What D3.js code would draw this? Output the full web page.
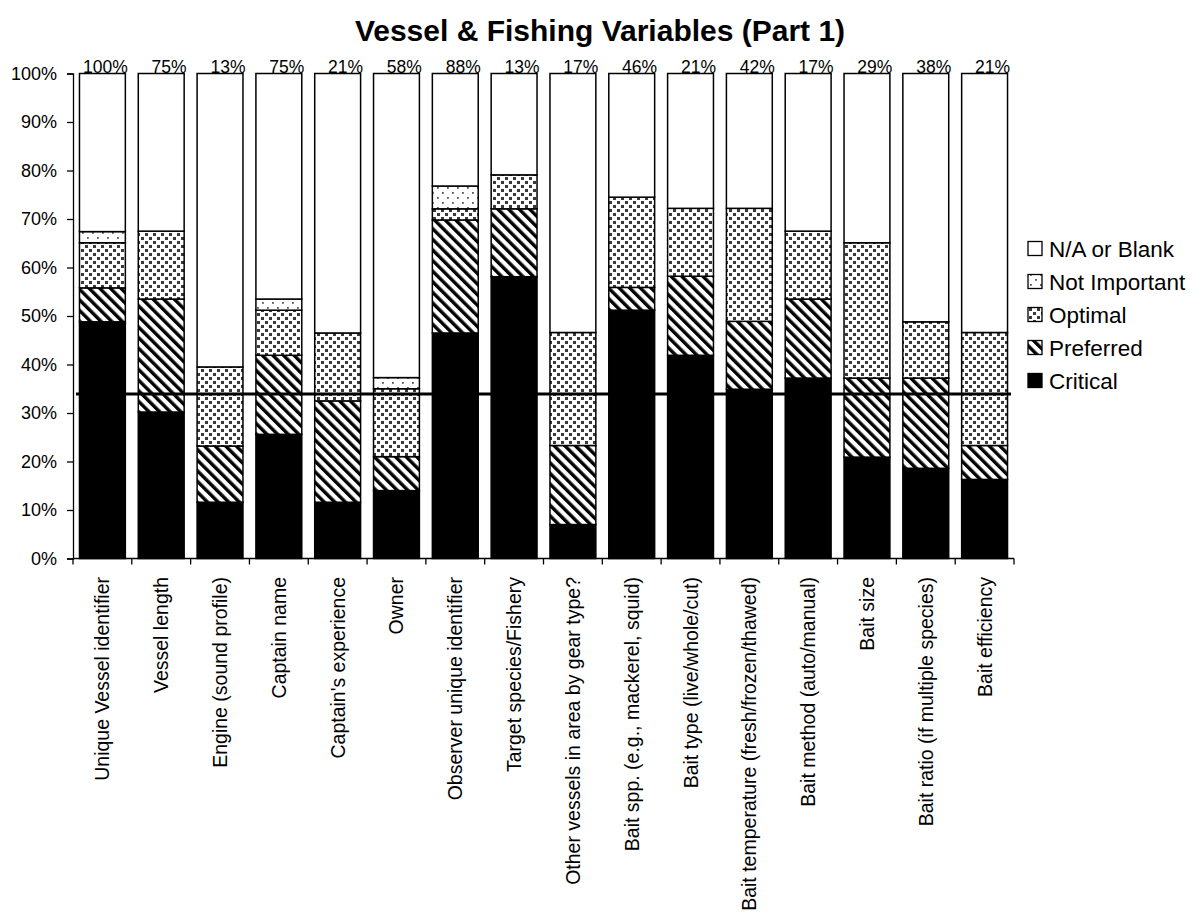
<!DOCTYPE html>
<html>
<head>
<meta charset="utf-8">
<script src="https://cdn.jsdelivr.net/npm/d3@7"></script>
<style>
  body { margin: 0; background: #fff; }
  text { font-family: Arial, "Liberation Sans", sans-serif; fill: #000; }
</style>
</head>
<body>
<svg id="chart" width="1201" height="920"></svg>
<script>
const categories = [
  "Unique Vessel identifier", "Vessel length", "Engine (sound profile)", "Captain name",
  "Captain's experience", "Owner", "Observer unique identifier", "Target species/Fishery",
  "Other vessels in area by gear type?", "Bait spp. (e.g., mackerel, squid)",
  "Bait type (live/whole/cut)", "Bait temperature (fresh/frozen/thawed)",
  "Bait method (auto/manual)", "Bait size", "Bait ratio (if multiple species)", "Bait efficiency"
];
const critical     = [48.8, 30.2, 11.6, 25.6, 11.6, 14.0, 46.5, 58.1, 7.0, 51.2, 41.9, 34.9, 37.2, 20.9, 18.6, 16.3];
const preferred    = [7.0, 23.3, 11.6, 16.3, 20.9, 7.0, 23.3, 14.0, 16.3, 4.7, 16.3, 14.0, 16.3, 16.3, 18.6, 7.0];
const optimal      = [9.3, 14.0, 16.3, 9.3, 14.0, 14.0, 2.3, 7.0, 23.3, 18.6, 14.0, 23.3, 14.0, 27.9, 11.6, 23.3];
const notImportant = [2.3, 0, 0, 2.3, 0, 2.3, 4.7, 0, 0, 0, 0, 0, 0, 0, 0, 0];
const naBlank      = [32.6, 32.6, 60.5, 46.5, 53.5, 62.8, 23.3, 20.9, 53.5, 25.6, 27.9, 27.9, 32.6, 34.9, 51.2, 53.5];
const topLabels    = ["100%", "75%", "13%", "75%", "21%", "58%", "88%", "13%", "17%", "46%", "21%", "42%", "17%", "29%", "38%", "21%"];
const seriesNames  = ["Critical", "Preferred", "Optimal", "Not Important", "N/A or Blank"];
const yTicks       = [0, 10, 20, 30, 40, 50, 60, 70, 80, 90, 100];
const referenceLine = 33.9;
const titleText = "Vessel & Fishing Variables (Part 1)";

const svg = d3.select("#chart");
const defs = svg.append("defs");

// Patterns
const pPref = defs.append("pattern").attr("id", "pat-pref").attr("patternUnits", "userSpaceOnUse")
  .attr("width", 7.5).attr("height", 7.5).attr("patternTransform", "rotate(-45)");
pPref.append("rect").attr("width", 7.5).attr("height", 7.5).attr("fill", "#fff");
pPref.append("rect").attr("width", 3.4).attr("height", 7.5).attr("fill", "#000");

const pOpt = defs.append("pattern").attr("id", "pat-opt").attr("patternUnits", "userSpaceOnUse")
  .attr("width", 8).attr("height", 8);
pOpt.append("rect").attr("width", 8).attr("height", 8).attr("fill", "#fff");
pOpt.append("rect").attr("x", 1).attr("y", 1).attr("width", 3).attr("height", 3).attr("fill", "#3a3a3a");
pOpt.append("rect").attr("x", 5).attr("y", 5).attr("width", 3).attr("height", 3).attr("fill", "#3a3a3a");

const pNI = defs.append("pattern").attr("id", "pat-ni").attr("patternUnits", "userSpaceOnUse")
  .attr("width", 10).attr("height", 10);
pNI.append("rect").attr("width", 10).attr("height", 10).attr("fill", "#fff");
pNI.append("rect").attr("x", 2).attr("y", 2).attr("width", 1.8).attr("height", 1.8).attr("fill", "#555");
pNI.append("rect").attr("x", 7).attr("y", 7).attr("width", 1.8).attr("height", 1.8).attr("fill", "#555");

const fills = {
  "Critical": "#000",
  "Preferred": "url(#pat-pref)",
  "Optimal": "url(#pat-opt)",
  "Not Important": "url(#pat-ni)",
  "N/A or Blank": "#fff"
};

// Scales
const x = d3.scaleBand().domain(categories).range([73, 1014]).paddingInner(0.22).paddingOuter(0.11);
const y = d3.scaleLinear().domain([0, 100]).range([558.5, 73.5]);

// Data table
const table = categories.map((c, i) => ({
  category: c,
  "Critical": critical[i],
  "Preferred": preferred[i],
  "Optimal": optimal[i],
  "Not Important": notImportant[i],
  "N/A or Blank": naBlank[i]
}));
const stacked = d3.stack().keys(seriesNames)(table);

// Bars
const layers = svg.append("g").selectAll("g").data(stacked).join("g")
  .attr("fill", d => fills[d.key]);
layers.selectAll("rect").data(d => d.filter(s => s[1] - s[0] > 0)).join("rect")
  .attr("x", d => x(d.data.category))
  .attr("width", x.bandwidth())
  .attr("y", d => y(Math.min(d[1], 100)))
  .attr("height", d => y(d[0]) - y(Math.min(d[1], 100)))
  .attr("stroke", "#000")
  .attr("stroke-width", 1.5);

// Y axis
const yAxis = svg.append("g").attr("transform", "translate(73,0)")
  .call(d3.axisLeft(y).tickValues(yTicks).tickFormat(d => d + "%").tickSize(6).tickPadding(10));
yAxis.select(".domain").attr("stroke", "#000").attr("stroke-width", 1.3);
yAxis.selectAll(".tick line").attr("stroke", "#000").attr("stroke-width", 1.3);
yAxis.selectAll("text").attr("font-size", 18).attr("font-family", "Arial, 'Liberation Sans', sans-serif").attr("fill", "#000");

// X axis baseline with ticks at band boundaries
const step = x.step();
const x0 = x(categories[0]) - x.paddingOuter() * step;
const xAxisG = svg.append("g");
xAxisG.append("line").attr("x1", 73).attr("x2", 1014).attr("y1", y(0)).attr("y2", y(0))
  .attr("stroke", "#000").attr("stroke-width", 1.3);
xAxisG.selectAll("line.tk").data(d3.range(categories.length + 1)).join("line").attr("class", "tk")
  .attr("x1", i => x0 + i * step).attr("x2", i => x0 + i * step)
  .attr("y1", y(0)).attr("y2", y(0) + 6)
  .attr("stroke", "#000").attr("stroke-width", 1.3);
xAxisG.selectAll("text").data(categories).join("text")
  .attr("transform", d => `translate(${x(d) + x.bandwidth() / 2 + 7},577) rotate(-90)`)
  .attr("text-anchor", "end")
  .attr("font-size", 19.5)
  .text(d => d);

// Top labels
svg.append("g").selectAll("text").data(categories).join("text")
  .attr("x", d => x(d) + x.bandwidth() + 2.5)
  .attr("y", y(100) - 0.5)
  .attr("text-anchor", "end")
  .attr("font-size", 17.5)
  .text((d, i) => topLabels[i]);

// Reference line
svg.append("line")
  .attr("x1", 76).attr("x2", 1011)
  .attr("y1", y(referenceLine)).attr("y2", y(referenceLine))
  .attr("stroke", "#000").attr("stroke-width", 3);

// Legend
const legendOrder = ["N/A or Blank", "Not Important", "Optimal", "Preferred", "Critical"];
const legend = svg.append("g").selectAll("g").data(legendOrder).join("g")
  .attr("transform", (d, i) => `translate(1028,${249 + i * 33})`);
legend.append("rect").attr("x", 0).attr("y", -7.5).attr("width", 14).attr("height", 14)
  .attr("fill", d => fills[d]).attr("stroke", "#000").attr("stroke-width", 1.3);
legend.append("text").attr("x", 21).attr("y", 8).attr("font-size", 22.5).text(d => d);

// Title
svg.append("text").attr("x", 600).attr("y", 41).attr("text-anchor", "middle")
  .attr("font-size", 30).attr("font-weight", "bold").text(titleText);
</script>
</body>
</html>
